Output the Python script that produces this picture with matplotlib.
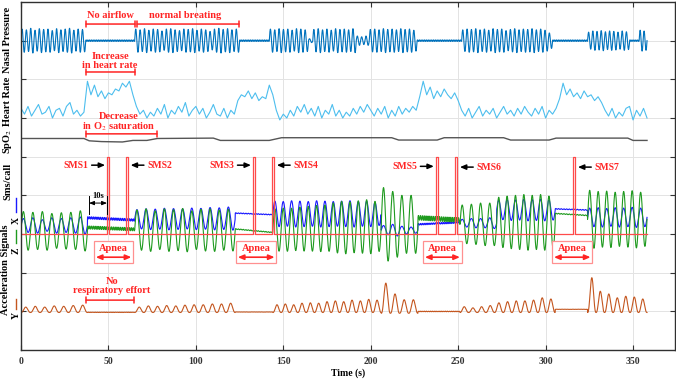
import numpy as np
import matplotlib
matplotlib.use("Agg")
import matplotlib.pyplot as plt
from matplotlib.patches import Rectangle
from matplotlib.lines import Line2D

# ---------------- data ----------------
# segments: (t_start, t_end, center_start, center_end, per-cycle amplitudes)
nasal_segments = [
    (0, 37, 8.0, 8.0, [0.30, 0.28, 0.32, 0.27, 0.31, 0.29, 0.30, 0.26, 0.31, 0.28, 0.30, 0.32, 0.27, 0.30, 0.29]),
    (37, 65, 8.0, 8.0, [0.02] * 28),
    (65, 125, 8.0, 8.0, [0.30, 0.28, 0.31, 0.27, 0.30, 0.29, 0.25, 0.30, 0.31, 0.28, 0.26, 0.30,
                         0.29, 0.31, 0.27, 0.30, 0.28, 0.24, 0.30, 0.32, 0.29, 0.31, 0.28, 0.30]),
    (125, 142, 8.0, 8.0, [0.02] * 17),
    (142, 226.5, 8.0, 8.0, [0.30, 0.28, 0.31, 0.29, 0.30, 0.27, 0.31, 0.30, 0.28, 0.05, 0.29, 0.31,
                            0.28, 0.30, 0.27, 0.31, 0.29, 0.30, 0.28, 0.31, 0.12, 0.10, 0.12, 0.29,
                            0.30, 0.28, 0.31, 0.29, 0.30, 0.28, 0.31, 0.29, 0.30, 0.27]),
    (226.5, 252, 8.0, 8.0, [0.02] * 25),
    (252, 304, 8.0, 8.0, [0.28, 0.30, 0.29, 0.31, 0.28, 0.30, 0.27, 0.31, 0.29, 0.30, 0.26, 0.29,
                          0.31, 0.28, 0.30, 0.29, 0.31, 0.28, 0.30, 0.27, 0.20]),
    (304, 324, 8.0, 8.0, [0.02] * 20),
    (324, 348, 8.0, 8.0, [0.22, 0.25, 0.24, 0.26, 0.23, 0.25, 0.24, 0.22, 0.25, 0.23]),
    (348, 353.5, 8.0, 8.0, [0.02] * 5),
    (353.5, 358, 8.0, 8.0, [0.27, 0.25]),
]

hr_time = np.arange(0, 360, 2)
hr_values = [
    6.25, 6.1, 6.3, 6.05, 6.2, 6.35, 6.1, 6.15, 6.3, 6.0, 6.2, 6.25, 6.05, 6.3, 6.4, 6.1, 6.2, 6.05, 6.15,
    6.95, 6.6, 6.85, 6.55, 6.7, 6.5, 6.65, 6.6, 6.75, 6.7, 6.9, 6.8, 6.95, 6.6,
    6.3, 6.1, 6.2, 6.0, 6.15, 6.05, 6.25, 6.1, 6.35, 6.0, 6.2, 6.1, 6.3, 6.15, 6.4, 6.05, 6.2, 6.3, 6.1,
    6.25, 6.0, 6.15, 6.35, 6.1, 6.05, 6.25, 6.0, 6.2, 6.1,
    6.45, 6.6, 6.55, 6.7, 6.5, 6.65, 6.45, 6.55, 6.5, 6.85, 6.6,
    6.2, 5.95, 6.1, 6.0, 6.2, 6.05, 6.3, 6.15, 6.35, 6.1, 6.25, 6.05, 6.3, 6.0, 6.2, 6.1, 6.35, 6.05,
    6.2, 6.0, 6.15, 6.05, 6.25, 6.1, 6.3, 6.15, 6.35, 6.2, 6.05, 6.25, 6.1, 6.3, 6.0, 6.2, 6.05, 6.3,
    6.1, 6.25, 6.15, 6.3, 6.2,
    6.55, 6.95, 6.6, 6.8, 6.5, 6.7, 6.55, 6.75, 6.6, 6.5, 6.65, 6.45,
    6.2, 6.05, 6.25, 6.0, 6.15, 6.3, 6.05, 6.2, 6.1, 6.25, 6.0, 6.15, 6.3, 6.1, 6.2, 6.05, 6.25, 6.1,
    6.3, 6.15, 6.05, 6.25, 6.1, 6.3, 6.0, 6.2, 6.1, 6.25,
    6.5, 6.9, 6.6, 6.75, 6.55, 6.65, 6.5, 6.7, 6.55, 6.6, 6.45, 6.55, 6.4,
    6.2, 6.05, 6.25, 6.0, 6.15, 6.05, 6.25, 6.3, 5.95, 6.2, 6.05, 6.25, 6.0,
]

spo2_time = [0, 36, 39, 46, 58, 64, 72, 78, 110, 114, 142, 149, 212, 216, 238, 242, 276, 280, 302, 306, 347, 350, 358]
spo2_values = [5.47, 5.47, 5.41, 5.39, 5.38, 5.42, 5.42, 5.47, 5.48, 5.42, 5.42, 5.49, 5.49, 5.43, 5.43,
               5.49, 5.49, 5.43, 5.43, 5.48, 5.48, 5.42, 5.42]

sms_base = 3.0
sms_high = 5.0
sms_times = [49.4, 60.0, 132.8, 143.6, 237.4, 248.3, 315.8]
sms_width = 1.1
sms_labels = ["SMS1", "SMS2", "SMS3", "SMS4", "SMS5", "SMS6", "SMS7"]

accz_segments = [
    (0, 38, 3.08, 3.08, [0.50, 0.48, 0.50, 0.45, 0.47, 0.48, 0.52]),
    (38, 65, 3.17, 3.12, [0.04] * 26),
    (65, 122.5, 3.10, 3.10, [0.52, 0.55, 0.50, 0.55, 0.53, 0.56, 0.50, 0.54, 0.55, 0.52, 0.54]),
    (122.5, 144, 3.13, 3.04, [0.01] * 15),
    (144, 206, 3.10, 3.20, [0.55, 0.56, 0.55, 0.57, 0.58, 0.60, 0.60, 0.65, 0.68, 0.66, 0.68, 0.70, 0.65]),
    (206, 227, 3.25, 3.25, [0.95, 0.85, 0.75, 0.75]),
    (227, 251, 3.42, 3.36, [0.06] * 22),
    (251, 272, 3.25, 3.25, [0.50, 0.52, 0.55, 0.55]),
    (272, 305.5, 3.30, 3.30, [0.65, 0.68, 0.70, 0.72, 0.70, 0.72, 0.68]),
    (305.5, 324, 3.53, 3.48, [0.01] * 12),
    (324, 358, 3.38, 3.38, [0.75, 0.72, 0.73, 0.70, 0.72, 0.74, 0.70]),
]

accx_segments = [
    (0, 38, 3.22, 3.22, [0.18, 0.20, 0.15, 0.20, 0.18, 0.20, 0.22]),
    (38, 65, 3.42, 3.36, [0.03] * 26),
    (65, 122.5, 3.38, 3.40, [0.25, 0.27, 0.26, 0.28, 0.27, 0.26, 0.28, 0.27, 0.29, 0.28, 0.30]),
    (122.5, 144, 3.54, 3.50, [0.01] * 15),
    (144, 206, 3.52, 3.52, [0.33, 0.32, 0.34, 0.33, 0.32, 0.34, 0.33, 0.32, 0.33, 0.34, 0.32, 0.33, 0.30]),
    (206, 227, 3.10, 3.10, [0.12, 0.15, 0.10, 0.08]),
    (227, 251, 3.25, 3.30, [0.02] * 22),
    (251, 272, 3.28, 3.28, [0.10, 0.12, 0.12, 0.14]),
    (272, 305.5, 3.62, 3.62, [0.25, 0.27, 0.26, 0.28, 0.27, 0.28, 0.26]),
    (305.5, 324, 3.65, 3.62, [0.01] * 12),
    (324, 358, 3.43, 3.43, [0.24, 0.25, 0.23, 0.25, 0.24, 0.26, 0.24]),
]

accy_segments = [
    (0, 38, 0.97, 0.97, [0.14, 0.16, 0.14, 0.17, 0.16, 0.18, 0.19]),
    (38, 65, 0.97, 0.97, [0.01] * 26),
    (65, 122.5, 0.97, 0.97, [0.14, 0.17, 0.16, 0.18, 0.17, 0.19, 0.20, 0.20, 0.22, 0.22, 0.24]),
    (122.5, 144, 0.98, 0.98, [0.005] * 15),
    (144, 206, 0.97, 0.97, [0.20, 0.22, 0.20, 0.24, 0.25, 0.24, 0.28, 0.30, 0.28, 0.32, 0.30, 0.34, 0.32]),
    (206, 227, 0.95, 0.95, [0.78, 0.50, 0.35, 0.35]),
    (227, 251, 0.99, 0.99, [0.015] * 22),
    (251, 305.5, 0.97, 0.97, [0.15, 0.12, 0.15, 0.18, 0.25, 0.28, 0.30, 0.30, 0.32, 0.38, 0.35]),
    (305.5, 324, 1.05, 1.05, [0.005] * 12),
    (324, 358, 0.97, 0.97, [0.90, 0.55, 0.48, 0.38, 0.42, 0.40, 0.35]),
]

xticks = [0, 50, 100, 150, 200, 250, 300, 350]
apnea_boxes = [(41.8, 64.1), (123.0, 146.0), (230.0, 252.0), (303.8, 326.7)]

# ---------------- rendering helpers ----------------
t = np.arange(0, 358.01, 0.05)


def render(segments, shape):
    y = np.full_like(t, np.nan)
    for t0, t1, c0, c1, amps in segments:
        m = (t >= t0) & (t <= t1)
        n = len(amps)
        ph = (t[m] - t0) / (t1 - t0) * n
        k = np.minimum(ph.astype(int), n - 1)
        a = np.asarray(amps)[k]
        c = c0 + (c1 - c0) * (t[m] - t0) / (t1 - t0)
        y[m] = c + a * shape(ph)
    return y


sin_shape = lambda ph: np.sin(2 * np.pi * ph)
peak_shape = lambda ph: ((1 - np.cos(2 * np.pi * ph)) / 2) ** 1.3

nasal = render(nasal_segments, sin_shape)
accz = render(accz_segments, sin_shape)
accx = render(accx_segments, sin_shape)
accy = render(accy_segments, peak_shape)

sms_x = [0]
sms_y = [sms_base]
for s in sms_times:
    sms_x += [s, s, s + sms_width, s + sms_width]
    sms_y += [sms_base, sms_high, sms_high, sms_base]
sms_x.append(358)
sms_y.append(sms_base)

# ---------------- figure ----------------
plt.rcParams['font.family'] = ['Liberation Serif', 'DejaVu Serif']
plt.rcParams['mathtext.fontset'] = 'stix'

fig = plt.figure(figsize=(6.76, 3.83), dpi=100)
ax = fig.add_axes([21 / 676, 1 - 350 / 383, (675 - 21) / 676, (350 - 2) / 383])
ax.set_xlim(0, 374)
ax.set_ylim(0, 9)

RED = '#ff2424'
SMSRED = '#ff4a4a'

ax.plot(t, nasal, color='#0072bd', lw=0.8)
ax.plot(hr_time, hr_values, color='#4dbeee', lw=0.8)
ax.plot(spo2_time, spo2_values, color='#555555', lw=1.0)
ax.plot(t, accx, color='#1a1aff', lw=0.8)
ax.plot(t, accz, color='#1f9a1f', lw=0.8)
ax.plot(sms_x, sms_y, color=SMSRED, lw=0.9)
ax.plot(t, accy, color='#c4561f', lw=0.8)

ax.set_xticks(xticks)
ax.set_xticklabels([str(v) for v in xticks], fontweight='bold', fontsize=7)
ax.set_yticks(range(1, 9))
ax.set_yticklabels([])
ax.tick_params(direction='in', length=3.5, width=0.8, top=True, right=True, pad=5, colors='#333333')
ax.grid(True, color='#e3e3e3', lw=0.7)
ax.set_axisbelow(True)
for sp in ax.spines.values():
    sp.set_color('#303030')
    sp.set_linewidth(1.0)
ax.set_xlabel('Time (s)', fontweight='bold', fontsize=7, labelpad=2)

tk = dict(color=RED, fontweight='bold', fontsize=7.5, ha='center', va='center')


def bracket(x0, x1, y):
    ax.annotate('', xy=(x1, y), xytext=(x0, y),
                arrowprops=dict(arrowstyle='|-|,widthA=0.22,widthB=0.22', color=RED, lw=1.1,
                                shrinkA=0, shrinkB=0))


ax.text(51, 8.64, 'No airflow', **tk)
bracket(37.2, 65.2, 8.43)
ax.text(94, 8.64, 'normal breating', **tk)
bracket(66.4, 124.7, 8.43)
ax.text(51, 7.48, 'Increase\nin heart rate', linespacing=1.0, **tk)
bracket(37.2, 65.2, 7.19)
ax.text(56, 5.89, 'Decrease\nin O$_2$ saturation', linespacing=1.0, **tk)
bracket(37.2, 77.8, 5.59)
ax.text(52, 1.66, 'No\nrespiratory effort', linespacing=1.0, **tk)
bracket(37.2, 64.6, 1.29)

# SMS labels and arrows
sms_y_text = [4.78, 4.78, 4.78, 4.78, 4.75, 4.73, 4.73]
sms_side = ['L', 'R', 'L', 'R', 'L', 'R', 'R']
for s, lab, side, yy in zip(sms_times, sms_labels, sms_side, sms_y_text):
    if side == 'L':
        ax.annotate('', xy=(s - 1.3, yy), xytext=(s - 9.0, yy),
                    arrowprops=dict(arrowstyle='-|>,head_length=0.35,head_width=0.15', color='black',
                                    lw=1.1, shrinkA=0, shrinkB=0))
        ax.text(s - 10.8, yy, lab, color=RED, fontweight='bold', fontsize=7, ha='right', va='center')
    else:
        ax.annotate('', xy=(s + sms_width + 1.6, yy), xytext=(s + sms_width + 9.2, yy),
                    arrowprops=dict(arrowstyle='-|>,head_length=0.35,head_width=0.15', color='black',
                                    lw=1.1, shrinkA=0, shrinkB=0))
        ax.text(s + sms_width + 11.0, yy, lab, color=RED, fontweight='bold', fontsize=7, ha='left', va='center')

# 10 s marker
for xx in (38.9, 49.2):
    ax.plot([xx, xx], [3.52, 3.98], color='black', lw=0.7)
ax.annotate('', xy=(49.2, 3.80), xytext=(38.9, 3.80),
            arrowprops=dict(arrowstyle='<|-|>,head_length=0.3,head_width=0.12', color='black', lw=0.7,
                            shrinkA=0, shrinkB=0))
ax.text(44.05, 3.97, '10s', color='black', fontweight='bold', fontsize=6, ha='center', va='center')

# apnea boxes
for x0, x1 in apnea_boxes:
    ax.add_patch(Rectangle((x0, 2.25), x1 - x0, 0.57, facecolor='white', edgecolor='#ff9090', lw=0.9, zorder=5))
    ax.text((x0 + x1) / 2, 2.63, 'Apnea', color=RED, fontweight='bold', fontsize=7.5, ha='center',
            va='center', zorder=6)
    ax.annotate('', xy=(x1 - 1.0, 2.40), xytext=(x0 + 1.0, 2.40),
                arrowprops=dict(arrowstyle='<|-|>,head_length=0.35,head_width=0.15', color=RED, lw=1.2,
                                shrinkA=0, shrinkB=0), zorder=6)

# left labels
lab_kw = dict(rotation=90, fontweight='bold', fontsize=7.5, ha='center', va='center')
H = 383.0
fig.text(8 / 676, 1 - 40 / H, 'Nasal Pressure', **lab_kw)
fig.text(8 / 676, 1 - 101 / H, 'Heart Rate', **lab_kw)
fig.text(8 / 676, 1 - 141 / H, 'SpO$_2$', **lab_kw)
fig.text(8 / 676, 1 - 181 / H, 'Sms/call', **lab_kw)
fig.text(6 / 676, 1 - 270 / H, 'Acceleration Signals', **lab_kw)
for letter, ytxt, (ya, yb), col in [('X', 221, (198, 212), '#1a1aff'),
                                    ('Z', 251, (230, 243), '#1f9a1f'),
                                    ('Y', 315, (299, 309), '#c4561f')]:
    fig.text(16 / 676, 1 - ytxt / H, letter, rotation=90, fontweight='bold', fontsize=7,
             ha='center', va='center')
    fig.add_artist(Line2D([16 / 676, 16 / 676], [1 - ya / H, 1 - yb / H], color=col, lw=1.0,
                          transform=fig.transFigure))

fig.savefig('out.png', dpi=100)
